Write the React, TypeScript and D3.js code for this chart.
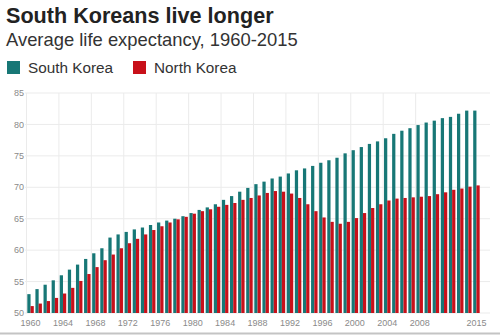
import React from "react";
import * as d3 from "d3";

const years: number[] = [
  1960, 1961, 1962, 1963, 1964, 1965, 1966, 1967, 1968, 1969,
  1970, 1971, 1972, 1973, 1974, 1975, 1976, 1977, 1978, 1979,
  1980, 1981, 1982, 1983, 1984, 1985, 1986, 1987, 1988, 1989,
  1990, 1991, 1992, 1993, 1994, 1995, 1996, 1997, 1998, 1999,
  2000, 2001, 2002, 2003, 2004, 2005, 2006, 2007, 2008, 2009,
  2010, 2011, 2012, 2013, 2014, 2015,
];

const southKorea: number[] = [
  53.0, 53.8, 54.5, 55.2, 56.0, 56.9, 57.7, 58.6, 59.5, 60.3,
  62.0, 62.5, 62.9, 63.3, 63.6, 64.0, 64.4, 64.7, 65.0, 65.4,
  65.9, 66.4, 66.8, 67.3, 68.0, 68.6, 69.3, 69.9, 70.5, 70.9,
  71.4, 71.7, 72.2, 72.7, 73.0, 73.4, 73.9, 74.3, 74.7, 75.4,
  75.9, 76.4, 76.9, 77.3, 77.8, 78.5, 79.0, 79.4, 79.9, 80.3,
  80.6, 81.0, 81.2, 81.7, 82.2, 82.2,
];

const northKorea: number[] = [
  51.1, 51.5, 51.9, 52.4, 53.1, 54.0, 55.1, 56.2, 57.3, 58.4,
  59.3, 60.3, 61.1, 61.8, 62.5, 63.2, 63.8, 64.4, 64.9, 65.3,
  65.8, 66.2, 66.5, 66.9, 67.2, 67.5, 68.0, 68.3, 68.7, 69.1,
  69.4, 69.3, 69.0, 68.3, 67.3, 66.2, 65.2, 64.5, 64.2, 64.5,
  65.1, 65.9, 66.7, 67.3, 67.9, 68.2, 68.3, 68.4, 68.5, 68.6,
  68.9, 69.2, 69.6, 69.8, 70.1, 70.3,
];

const seriesNames: string[] = ["South Korea", "North Korea"];
const seriesColors: string[] = ["#177776", "#c8101a"];
const yTicks: number[] = [50, 55, 60, 65, 70, 75, 80, 85];
const xTickLabels: number[] = [1960, 1964, 1968, 1972, 1976, 1980, 1984, 1988, 1992, 1996, 2000, 2004, 2008, 2015];
const gridYears: number[] = [1960, 1964, 1968, 1972, 1976, 1980, 1984, 1988, 1992, 1996, 2000, 2004, 2008];

const W = 500;
const H = 336;
const FONT = "'Liberation Sans', Arial, Helvetica, sans-serif";

export default function App() {
  const x0 = d3
    .scaleBand<number>()
    .domain(years)
    .range([26.5, 480.5])
    .paddingInner(0.2)
    .paddingOuter(0.1);
  const x1 = d3
    .scaleBand<number>()
    .domain([0, 1])
    .range([0, x0.bandwidth()]);
  const y = d3.scaleLinear().domain([50, 85]).range([313, 93]);

  const step = x0.step();
  const gridX = (yr: number) => (x0(yr) as number) - step * 0.1;

  const series = [southKorea, northKorea];

  return (
    <svg
      width={W}
      height={H}
      style={{ position: "absolute", left: 0, top: 0, background: "#fff" }}
      fontFamily={FONT}
    >
      <rect x={0} y={0} width={W} height={H} fill="#fff" />
      <text x={6} y={23} fontSize={21.6} fontWeight="bold" fill="#222">
        South Koreans live longer
      </text>
      <text x={6} y={46} fontSize={18.4} fill="#333">
        Average life expectancy, 1960-2015
      </text>
      {seriesNames.map((name, i) => {
        const lx = i === 0 ? 7 : 133;
        return (
          <g key={name}>
            <rect x={lx} y={61} width={13} height={13} fill={seriesColors[i]} />
            <text x={lx + 21} y={73} fontSize={15.3} fill="#333">
              {name}
            </text>
          </g>
        );
      })}

      {/* horizontal gridlines */}
      {yTicks.map((t) => (
        <g key={"y" + t}>
          <line x1={25} x2={490} y1={y(t)} y2={y(t)} stroke="#ebebeb" strokeWidth={1} />
          <text
            x={24}
            y={y(t)}
            dy="0.35em"
            textAnchor="end"
            fontSize={9}
            fill="#8a8a8a"
          >
            {t}
          </text>
        </g>
      ))}
      {/* vertical gridlines */}
      {gridYears.map((yr) => (
        <line
          key={"gx" + yr}
          x1={gridX(yr)}
          x2={gridX(yr)}
          y1={y(85)}
          y2={y(50)}
          stroke="#ebebeb"
          strokeWidth={1}
        />
      ))}

      {/* bars */}
      {years.map((yr, idx) => (
        <g key={"b" + yr} transform={`translate(${x0(yr)},0)`}>
          {series.map((s, si) => (
            <rect
              key={si}
              x={x1(si)}
              y={y(s[idx])}
              width={x1.bandwidth()}
              height={y(50) - y(s[idx])}
              fill={seriesColors[si]}
            />
          ))}
        </g>
      ))}

      {/* x labels */}
      {xTickLabels.map((yr) => (
        <text
          key={"xl" + yr}
          x={(x0(yr) as number) + x0.bandwidth() / 2}
          y={325.5}
          textAnchor="middle"
          fontSize={9}
          fill="#8a8a8a"
        >
          {yr}
        </text>
      ))}

      <line x1={0} x2={W} y1={333.5} y2={333.5} stroke="#c4c4c4" strokeWidth={2} />
    </svg>
  );
}
